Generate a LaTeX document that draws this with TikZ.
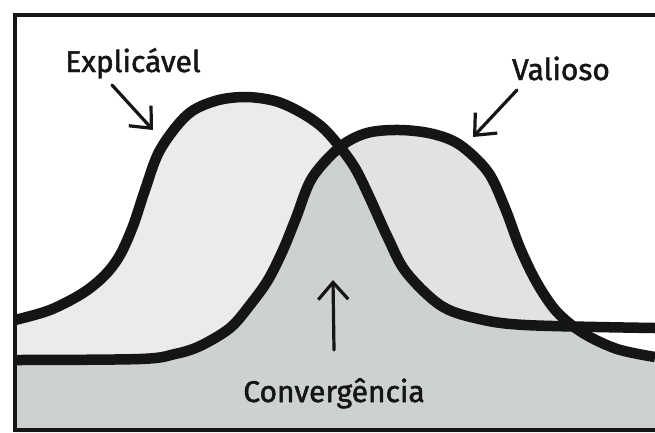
\documentclass[tikz,border=0pt]{standalone}
\usepackage{fontspec}
\setmainfont{Fira Sans}
\newfontfamily\handfont{Fira Sans}[FakeBold=1.6]
\usetikzlibrary{arrows.meta}
\definecolor{Ecol}{HTML}{EAEBEB}
\definecolor{Vcol}{HTML}{E1E3E3}
\definecolor{Bcol}{HTML}{CED1D2}
\definecolor{ink}{HTML}{151515}
\begin{document}
\begin{tikzpicture}[x=1pt,y=-1pt,
  curve/.style={line width=10.5pt, draw=ink, line cap=butt, line join=round},
  pointer/.style={line width=3.2pt, draw=ink, line cap=round,
    -{Straight Barb[length=17pt,width=30pt]}},
  lbl/.style={font=\handfont\fontsize{30}{30}\selectfont, text=ink, inner sep=0pt, anchor=base},
  frame/.style={line width=4pt, draw=ink}
]
\useasboundingbox (0,0) rectangle (655,432);
\fill[white] (0,0) rectangle (655,432);
\def\Ec{plot[smooth,tension=0.55] coordinates {(15,320) (50,310) (83,293) (105,275) (120,255) (133,226) (145,190) (160,150) (187,115) (215,101) (245,97) (275,101) (300,112) (322,127) (340,147) (355,168) (368,194) (388,238) (406,272) (440,305) (475,318) (525,325) (655,328)}}
\def\Vc{plot[smooth,tension=0.55] coordinates {(15,360) (140,359) (175,354) (200,346) (230,328) (250,305) (268,280) (283,250) (296,218) (312,178) (340,147) (367,133) (400,130) (433,134) (460,145) (488,172) (505,208) (520,248) (537,283) (557,312) (583,333) (617,349) (655,357)}}
\def\Ereg{\Ec -- (655,432) -- (15,432) -- cycle}
\def\Vreg{\Vc -- (655,432) -- (15,432) -- cycle}
% fills
\begin{scope}
  \clip (0,0) rectangle (570,432);
  \fill[Ecol] \Ereg;
\end{scope}
\fill[Vcol] \Vreg;
\begin{scope}
  \clip \Ereg;
  \fill[Bcol] \Vreg;
\end{scope}
% curves
\draw[curve] \Ec;
\draw[curve] \Vc;
% frame
\draw[frame] (655,14.5) -- (15,14.5) -- (15,430) -- (655,430);
% labels
\node[lbl] (lblE) at (133,72) {Explicável};
\node[lbl] (lblV) at (561,80) {Valioso};
\node[lbl] (lblC) at (334,402) {Convergência};
% pointers
\coordinate (eS) at (112,85); \coordinate (eT) at (153,130);
\coordinate (vS) at (517,90); \coordinate (vT) at (473,137);
\coordinate (cS) at (334,350); \coordinate (cT) at (333,280);
\draw[pointer] (eS) -- (eT);
\draw[pointer] (vS) -- (vT);
\draw[pointer] (cS) -- (cT);
\end{tikzpicture}
\end{document}
